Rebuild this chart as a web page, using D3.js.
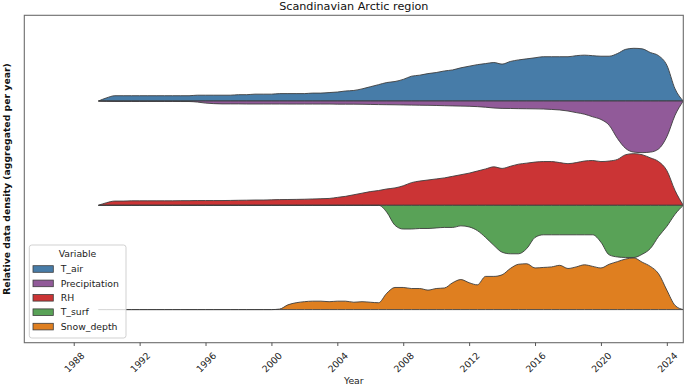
<!DOCTYPE html>
<html><head><meta charset="utf-8">
<script src="https://cdn.jsdelivr.net/npm/d3@7"></script>
<style>
body{margin:0;background:#fff}
svg{display:block;font-family:"DejaVu Sans",sans-serif}
</style>
</head><body>
<svg id="chart" width="685" height="386"></svg>
<script>
// ---- data (relative density, aggregated per year; 1.0 = peak) ----
const years = [1989.5,1990,1990.5,1991,1991.5,1992,1992.5,1993,1993.5,1994,1994.5,1995,1995.5,1996,1996.5,1997,1997.5,1998,1998.5,1999,1999.5,2000,2000.5,2001,2001.5,2002,2002.5,2003,2003.5,2004,2004.5,2005,2005.5,2006,2006.5,2007,2007.5,2008,2008.5,2009,2009.5,2010,2010.5,2011,2011.5,2012,2012.5,2013,2013.5,2014,2014.5,2015,2015.5,2016,2016.5,2017,2017.5,2018,2018.5,2019,2019.5,2020,2020.5,2021,2021.5,2022,2022.5,2023,2023.5,2024,2024.5,2025];
const variables = ["T_air","Precipitation","RH","T_surf","Snow_depth"];
const tAir = [0,.06,.10,.10,.10,.10,.10,.10,.10,.10,.10,.10,.11,.11,.11,.11,.11,.12,.12,.13,.13,.13,.14,.14,.14,.14,.15,.15,.16,.17,.19,.20,.23,.27,.31,.35,.37,.41,.47,.49,.52,.54,.57,.59,.63,.66,.69,.71,.73,.70,.75,.78,.80,.82,.84,.84,.84,.84,.86,.87,.86,.85,.85,.90,.98,1.0,.99,.92,.86,.68,.23,0];
const precipitation = [0,.006,.008,.008,.008,.008,.008,.008,.008,.008,.01,.01,.02,.04,.05,.055,.055,.055,.057,.057,.057,.057,.057,.058,.058,.058,.058,.058,.058,.06,.06,.06,.062,.065,.068,.07,.072,.075,.078,.08,.082,.085,.089,.093,.097,.10,.107,.118,.133,.14,.142,.145,.147,.149,.152,.16,.17,.19,.22,.25,.30,.35,.46,.71,.90,.97,.98,.97,.91,.68,.27,0];
const rh = [0,.05,.08,.08,.085,.085,.085,.085,.085,.085,.088,.088,.09,.09,.09,.09,.092,.095,.097,.10,.10,.104,.108,.11,.112,.115,.12,.125,.13,.15,.17,.20,.23,.26,.28,.31,.33,.37,.43,.46,.48,.50,.52,.55,.58,.61,.65,.69,.73,.70,.74,.78,.80,.82,.83,.83,.81,.79,.81,.84,.85,.83,.84,.87,.96,.98,.96,.90,.83,.66,.28,0];
const tSurf = [0,0,0,0,0,0,0,0,0,0,0,0,0,0,0,0,0,0,0,0,0,0,0,0,0,0,0,0,0,0,0,0,0,0,0,.13,.38,.45,.45,.44,.44,.43,.42,.42,.39,.41,.48,.61,.76,.89,.92,.92,.82,.61,.56,.56,.56,.56,.56,.56,.56,.70,.94,.98,.99,.99,.93,.82,.59,.40,.17,0];
const snowDepth = [0,0,0,0,0,0,0,0,0,0,0,0,0,0,0,0,0,0,0,0,0,0,.01,.09,.13,.15,.16,.16,.15,.16,.16,.14,.15,.14,.13,.31,.42,.42,.40,.40,.37,.40,.41,.51,.57,.51,.47,.63,.63,.66,.78,.86,.87,.79,.80,.81,.84,.78,.81,.85,.82,.79,.86,.91,.96,.98,.90,.82,.68,.37,.08,0];
const seriesValues = [tAir, precipitation, rh, tSurf, snowDepth];
const seriesRow = [0,0,1,1,2];        // which ridge line
const seriesSide = [1,-1,1,-1,1];     // above (+1) or below (-1) the ridge line
const xTickValues = [1988,1992,1996,2000,2004,2008,2012,2016,2020,2024];
const colors = ["#477ca8","#915a99","#cb3435","#59a257","#df7f20"];

// ---- layout ----
const W = 685, H = 386;
const frame = {left:24.3, right:683.3, top:15.3, bottom:342.7};
const svg = d3.select("#chart");

const x = d3.scaleLinear().domain([1985, 2025]).range([frame.left, frame.right]);
const rowY = d3.scaleLinear().domain([0, 2]).range([101, 309.6]);
const hScale = d3.scaleLinear().domain([0, 1]).range([0, 52.7]);

svg.append("defs").append("clipPath").attr("id","clip")
  .append("rect").attr("x",frame.left).attr("y",frame.top)
  .attr("width",frame.right-frame.left).attr("height",frame.bottom-frame.top);

const plot = svg.append("g").attr("clip-path","url(#clip)");

seriesValues.forEach((vals, si) => {
  const base = rowY(seriesRow[si]);
  const side = seriesSide[si];
  const area = d3.area()
    .x((d,i) => x(years[i]))
    .y0(base)
    .y1(d => base - side * hScale(d))
    .curve(d3.curveMonotoneX);
  plot.append("path")
    .attr("d", area(vals))
    .attr("fill", colors[si])
    .attr("stroke", "#3d3d3d")
    .attr("stroke-width", 0.9)
    .attr("stroke-linejoin","round");
});

// frame
svg.append("rect")
  .attr("x",frame.left).attr("y",frame.top)
  .attr("width",frame.right-frame.left).attr("height",frame.bottom-frame.top)
  .attr("fill","none").attr("stroke","#6b6b6b").attr("stroke-width",1.1);

// x axis
const xAxis = d3.axisBottom(x).tickValues(xTickValues).tickSize(3.3).tickFormat(d3.format("d"));
const gx = svg.append("g").attr("transform",`translate(0,${frame.bottom})`).call(xAxis);
gx.select(".domain").remove();
gx.selectAll(".tick line").attr("stroke","#444").attr("stroke-width",0.9);
gx.selectAll(".tick text")
  .attr("y",0).attr("dy",null)
  .attr("text-anchor","middle")
  .attr("dominant-baseline","central")
  .attr("transform","translate(0,19.5) rotate(-45)")
  .attr("font-size",9.3)
  .attr("font-family","DejaVu Sans, sans-serif")
  .attr("fill","#222");

// axis labels & title
svg.append("text").attr("x",(frame.left+frame.right)/2).attr("y",383.5)
  .attr("text-anchor","middle").attr("font-size",9.3).attr("fill","#222").text("Year");
svg.append("text")
  .attr("transform",`translate(10.3,${(frame.top+frame.bottom)/2}) rotate(-90)`)
  .attr("text-anchor","middle").attr("font-size",9.3).attr("font-weight","bold").attr("fill","#111")
  .text("Relative data density (aggregated per year)");
svg.append("text").attr("x",(frame.left+frame.right)/2).attr("y",9.8)
  .attr("text-anchor","middle").attr("font-size",11.2).attr("fill","#111")
  .text("Scandinavian Arctic region");

// legend
const lg = svg.append("g");
lg.append("rect").attr("x",29.3).attr("y",245).attr("width",96.7).attr("height",93)
  .attr("rx",2.5).attr("fill","#fff").attr("fill-opacity",0.8)
  .attr("stroke","#cccccc").attr("stroke-width",0.9);
lg.append("text").attr("x",77.5).attr("y",257.3).attr("text-anchor","middle")
  .attr("font-size",9.3).attr("fill","#222").text("Variable");
variables.forEach((v,i) => {
  const cy = 269 + i*14.4;
  lg.append("rect").attr("x",33).attr("y",cy-3.3).attr("width",20.3).attr("height",6.6)
    .attr("fill",colors[i]).attr("stroke","#3d3d3d").attr("stroke-width",0.8);
  lg.append("text").attr("x",60.7).attr("y",cy).attr("dy","0.35em")
    .attr("font-size",9.3).attr("fill","#222").text(v);
});
</script>
</body></html>
